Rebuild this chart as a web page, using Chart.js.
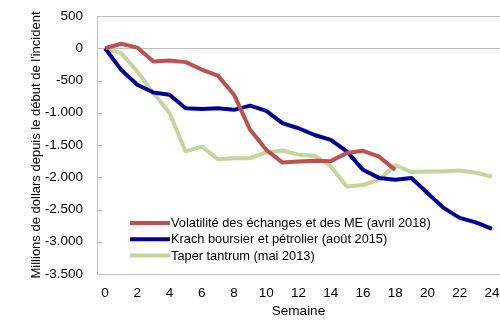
<!DOCTYPE html>
<html>
<head>
<meta charset="utf-8">
<script src="https://cdn.jsdelivr.net/npm/chart.js@4"></script>
<style>
  html, body { margin: 0; padding: 0; background: #fff; }
  #wrap { width: 500px; height: 323px; }
</style>
</head>
<body>
<div id="wrap"><canvas id="line-chart"></canvas></div>
<script>
// semaines depuis le début de l'incident
var semaines = [0,1,2,3,4,5,6,7,8,9,10,11,12,13,14,15,16,17,18,19,20,21,22,23,24];

// flux cumulés, millions de dollars
var volatilite2018 = [0,70,10,-205,-190,-215,-330,-425,-720,-1265,-1575,-1770,-1755,-1745,-1750,-1625,-1590,-1680,-1885];
var krach2015 = [0,-335,-565,-685,-720,-930,-940,-930,-955,-890,-970,-1160,-1240,-1345,-1420,-1600,-1885,-2010,-2040,-2010,-2245,-2475,-2630,-2700,-2800];
var taper2013 = [0,-75,-360,-695,-1005,-1600,-1525,-1720,-1705,-1705,-1615,-1585,-1650,-1665,-1830,-2145,-2120,-2040,-1810,-1920,-1910,-1910,-1895,-1930,-1990];

var seriesNames = [
    'Volatilité des échanges et des ME (avril 2018)',
    'Krach boursier et pétrolier (août 2015)',
    'Taper tantrum (mai 2013)'
];
var seriesColors = ['#C0504D', '#000099', '#C3D69B'];

var yTicks = [500, 0, -500, -1000, -1500, -2000, -2500, -3000, -3500];

var fontFamily = '"Liberation Sans", Arial, sans-serif';
var axisGray = '#BFBFBF';

function formatMillier(v) {
    var s = Math.abs(v).toString().replace(/\B(?=(\d{3})+(?!\d))/g, '.');
    return (v < 0 ? '-' : '') + s;
}

// petits traits de graduation vers l'intérieur sur l'axe vertical
var innerTicks = {
    id: 'innerTicks',
    afterDatasetsDraw: function(chart) {
        var y = chart.scales.y, ctx = chart.ctx, x0 = chart.chartArea.left;
        ctx.save();
        ctx.strokeStyle = axisGray;
        ctx.lineWidth = 1;
        yTicks.forEach(function(v) {
            var py = Math.round(y.getPixelForValue(v)) + 0.5;
            ctx.beginPath();
            ctx.moveTo(x0, py);
            ctx.lineTo(x0 + 5, py);
            ctx.stroke();
        });
        ctx.restore();
    }
};

// légende dans la zone du graphique, en bas à gauche
var insideLegend = {
    id: 'insideLegend',
    afterDraw: function(chart) {
        var ctx = chart.ctx, area = chart.chartArea;
        var x = area.left + 33, y = area.bottom - 51;
        ctx.save();
        ctx.font = '12.8px ' + fontFamily;
        ctx.textBaseline = 'middle';
        ctx.fillStyle = '#000';
        chart.data.datasets.forEach(function(ds, i) {
            var cy = y + i * 16.3;
            ctx.strokeStyle = ds.borderColor;
            ctx.lineWidth = 4;
            ctx.beginPath();
            ctx.moveTo(x, cy);
            ctx.lineTo(x + 40, cy);
            ctx.stroke();
            ctx.fillText(ds.label, x + 41, cy + 0.5);
        });
        ctx.restore();
    }
};

var ctx = document.getElementById('line-chart').getContext('2d');
var myChart = new Chart(ctx, {
    type: 'line',
    data: {
        labels: semaines,
        datasets: [{
            label: seriesNames[0],
            data: volatilite2018,
            borderColor: seriesColors[0],
            backgroundColor: seriesColors[0]
        }, {
            label: seriesNames[1],
            data: krach2015,
            borderColor: seriesColors[1],
            backgroundColor: seriesColors[1]
        }, {
            label: seriesNames[2],
            data: taper2013,
            borderColor: seriesColors[2],
            backgroundColor: seriesColors[2]
        }]
    },
    options: {
        responsive: true,
        maintainAspectRatio: false,
        animation: false,
        layout: { padding: { top: 16, right: 0, bottom: 0, left: 0 } },
        elements: {
            line: { borderWidth: 4, tension: 0, borderJoinStyle: 'round', borderCapStyle: 'butt' },
            point: { radius: 0 }
        },
        plugins: {
            legend: { display: false },
            tooltip: { enabled: false }
        },
        scales: {
            x: {
                offset: true,
                grid: { display: false, drawTicks: false },
                border: { display: true, color: axisGray, width: 1 },
                ticks: {
                    autoSkip: false,
                    maxRotation: 0,
                    padding: 11,
                    color: '#000',
                    font: { family: fontFamily, size: 13.5 },
                    callback: function(val, i) {
                        return semaines[i] % 2 === 0 ? String(semaines[i]) : '';
                    }
                },
                title: {
                    display: true,
                    text: 'Semaine',
                    color: '#000',
                    font: { family: fontFamily, size: 13.5 },
                    padding: { top: 0, bottom: 4 }
                },
                afterFit: function(scale) {
                    scale.height = 49;
                    scale.paddingLeft = 0;
                    scale.paddingRight = 0;
                }
            },
            y: {
                min: -3500,
                max: 500,
                grid: {
                    drawTicks: false,
                    color: function(c) {
                        return (c.tick && (c.tick.value === 0 || c.tick.value === 500)) ? axisGray : 'rgba(0,0,0,0)';
                    }
                },
                border: { display: true, color: axisGray, width: 1 },
                afterBuildTicks: function(scale) {
                    scale.ticks = yTicks.map(function(v) { return { value: v }; });
                },
                ticks: {
                    padding: 14,
                    color: '#000',
                    font: { family: fontFamily, size: 13.5 },
                    callback: function(v) { return formatMillier(v); }
                },
                title: {
                    display: true,
                    text: "Millions de dollars depuis le début de l'incident",
                    color: '#000',
                    font: { family: fontFamily, size: 13 },
                    padding: { top: 29, bottom: 0 }
                },
                afterFit: function(scale) {
                    scale.width = 97;
                    scale.paddingTop = 0;
                    scale.paddingBottom = 0;
                }
            }
        }
    },
    plugins: [innerTicks, insideLegend]
});
</script>
</body>
</html>
